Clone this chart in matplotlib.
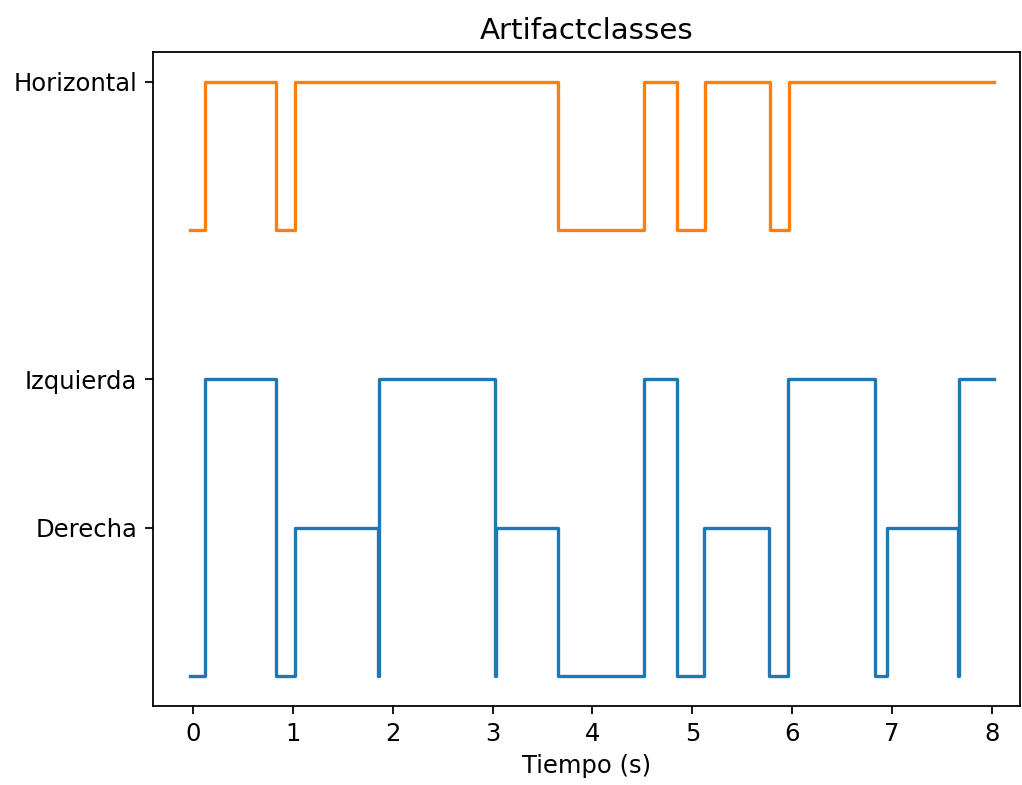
import matplotlib
matplotlib.use("Agg")
import matplotlib.pyplot as plt

# Class levels (y positions) and labels
ytick_values = [4, 2, 1]
ytick_labels = ["Horizontal", "Izquierda", "Derecha"]

# Blue series: change times (s) and class level after each change
blue_times = [-0.03, 0.12, 0.83, 1.02, 1.85, 1.86, 3.02, 3.03, 3.65, 4.52,
              4.85, 5.12, 5.77, 5.96, 6.83, 6.95, 7.66, 7.67, 8.02]
blue_levels = [0, 2, 0, 1, 0, 2, 0, 1, 0, 2,
               0, 1, 0, 2, 0, 1, 0, 2, 2]

# Orange series: change times (s) and class level after each change
orange_times = [-0.03, 0.12, 0.83, 1.02, 3.65, 4.52, 4.85, 5.13, 5.78, 5.97, 8.02]
orange_levels = [3, 4, 3, 4, 3, 4, 3, 4, 3, 4, 4]

fig = plt.figure(figsize=(1022 / 160, 785 / 160), dpi=160)
ax = fig.add_axes([153 / 1022, 79 / 785, 867 / 1022, 654 / 785])

ax.plot(blue_times, blue_levels, drawstyle="steps-post", color="#1f77b4")
ax.plot(orange_times, orange_levels, drawstyle="steps-post", color="#ff7f0e")

ax.set_xlim(-0.40, 8.28)
ax.set_ylim(-0.2, 4.2)
ax.set_xticks(range(0, 9))
ax.set_yticks(ytick_values)
ax.set_yticklabels(ytick_labels)
ax.tick_params(labelsize=10.9)
ax.set_xlabel("Tiempo (s)", fontsize=10.9)
ax.set_title("Artifactclasses", fontsize=13.2)

fig.savefig("out.png", dpi=160)
